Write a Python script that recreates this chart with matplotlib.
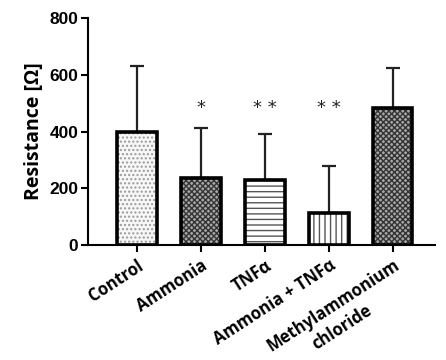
import matplotlib
matplotlib.use('Agg')
import matplotlib.pyplot as plt

# Values
groups = ['Control', 'Ammonia', 'TNF\u03b1', 'Ammonia + TNF\u03b1', 'Methylammonium\nchloride']
means = [400, 237, 231, 112, 483]
errors = [231, 175, 162, 166, 140]
stars = ['', '*', '* *', '* *', '']
star_level = 450

# Fill style per bar: face colour, hatch, hatch colour
faces = ['#f7f7f7', '#a8a8a8', 'white', 'white', '#a8a8a8']
hatches = ['....', 'xxxxxx', '---', '|||', 'xxxxxx']
hatch_cols = ['#9a9a9a', '#333333', '#555555', '#555555', '#333333']

plt.rcParams['hatch.linewidth'] = 1.0

fig = plt.figure(figsize=(4.46, 3.6), dpi=100)
ax = fig.add_axes([0.197, 0.319, 0.778, 0.631])

x = list(range(len(groups)))
width = 0.62

# Error bars (upper only), behind the bars
ax.errorbar(x, means, yerr=[[0] * len(means), errors], fmt='none',
            ecolor='#222222', elinewidth=1.6, capsize=5, capthick=1.6, zorder=1)

# Hatched fill, then black outline on top
for i in x:
    ax.bar(i, means[i], width, color=faces[i], edgecolor=hatch_cols[i],
           hatch=hatches[i], linewidth=0, zorder=2)
ax.bar(x, means, width, fill=False, edgecolor='black', linewidth=2.6, zorder=3)

for i, s in zip(x, stars):
    if s:
        ax.text(i, star_level, s, ha='center', va='bottom', fontsize=13,
                color='#222222')

ax.set_xlim(-0.77, 4.66)
ax.set_ylim(0, 800)
ax.set_yticks([0, 200, 400, 600, 800])
ax.set_xticks(x)

# first line as tick label, second line (if any) centred below it
label_font = dict(fontsize=12, fontweight='bold', family='Open Sans')
ax.set_xticklabels([g.split('\n')[0] for g in groups], rotation=33,
                   ha='right', rotation_mode='anchor', **label_font)
for i, g in enumerate(groups):
    if '\n' in g:
        ax.annotate(g.split('\n')[1], xy=(i, 0), xycoords=('data', 'axes fraction'),
                    xytext=(-36.4, -59.4), textcoords='offset points',
                    rotation=33, rotation_mode='anchor', ha='center', va='center',
                    annotation_clip=False, **label_font)

for lab in ax.get_yticklabels():
    lab.set_fontweight('bold')
    lab.set_family('Liberation Sans')
    lab.set_fontsize(12.5)

ax.set_ylabel('Resistance [\u03a9]', fontsize=14, fontweight='bold',
              family='Open Sans', labelpad=4)

for side in ['top', 'right']:
    ax.spines[side].set_visible(False)
for side in ['left', 'bottom']:
    ax.spines[side].set_linewidth(1.5)
ax.tick_params(axis='both', direction='out', length=5, width=1.5)
ax.tick_params(axis='x', pad=3)
ax.tick_params(axis='y', pad=2)

fig.savefig('out.png', dpi=100)
